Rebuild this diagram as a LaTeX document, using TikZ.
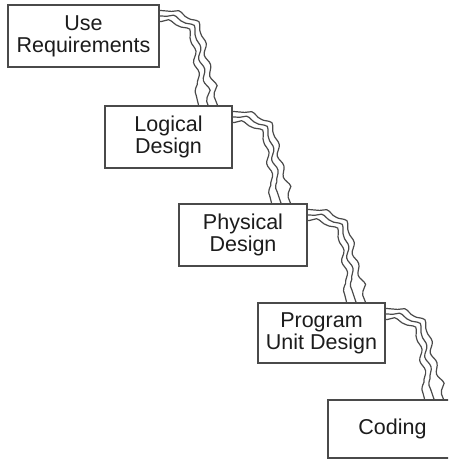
\documentclass[tikz,border=0pt]{standalone}
\usepackage{fontspec}
\setmainfont{Liberation Sans}
\usetikzlibrary{calc,decorations.pathmorphing}
\definecolor{edge}{HTML}{4A4A4A}
\definecolor{ink}{HTML}{1C1C1C}
\pgfdeclarelayer{bg}
\pgfsetlayers{bg,main}

% three wavy strands running from the right side of one stage
% down onto the top of the next one
\newcommand\cascade[2]{%
  \coordinate (s) at (#1.north east);
  \coordinate (t) at (#1.north east |- #2.north);
  \draw[ripple=12pt] ($(s)+(0,6)$) .. controls +(21,0) and +(-2,-21) .. ($(s)+(39,35)$)
        .. controls +(2,21) and +(-8,-20) .. ($(t)+(58,0)$);
  \draw[ripple=7pt] ($(s)+(0,11.5)$) .. controls +(17,0) and +(-2,-19) .. ($(s)+(33.5,37)$)
        .. controls +(2,19) and +(-7,-20) .. ($(t)+(48.5,0)$);
  \draw[ripple=2pt] ($(s)+(0,17)$) .. controls +(13,0) and +(-2,-17) .. ($(s)+(28,39)$)
        .. controls +(2,17) and +(-5,-20) .. ($(t)+(39,0)$);
}

\begin{document}
\begin{tikzpicture}[x=1pt,y=-1pt,
  stage/.style={draw=edge, line width=1.2pt, fill=white, text=ink,
    minimum height=61pt, minimum width=128pt, inner sep=0pt, align=center,
    font=\fontsize{21.5}{22}\selectfont},
  ripple/.style={draw=edge, line width=1.2pt, decorate,
    decoration={snake, amplitude=2pt, segment length=22pt,
      pre length=#1, post length=3pt}},
]
\useasboundingbox (0,0) rectangle (448,461);
\clip (0,0) rectangle (448,461);

\node[stage, minimum width=151pt, minimum height=62pt] (req) at (83.5,36) {Use\\Requirements};
\node[stage, minimum width=127pt, minimum height=62pt] (log) at (168.5,137) {Logical\\Design};
\node[stage, minimum height=62pt] (phy) at (243,235) {Physical\\Design};
\node[stage, minimum width=127pt, minimum height=60pt] (pud) at (321.5,333) {Program\\Unit Design};
\node[stage, minimum width=129pt, minimum height=58pt] (cod) at (392.5,429) {Coding};

\begin{pgfonlayer}{bg}
  \cascade{req}{log}
  \cascade{log}{phy}
  \cascade{phy}{pud}
  \cascade{pud}{cod}
\end{pgfonlayer}
\end{tikzpicture}
\end{document}
